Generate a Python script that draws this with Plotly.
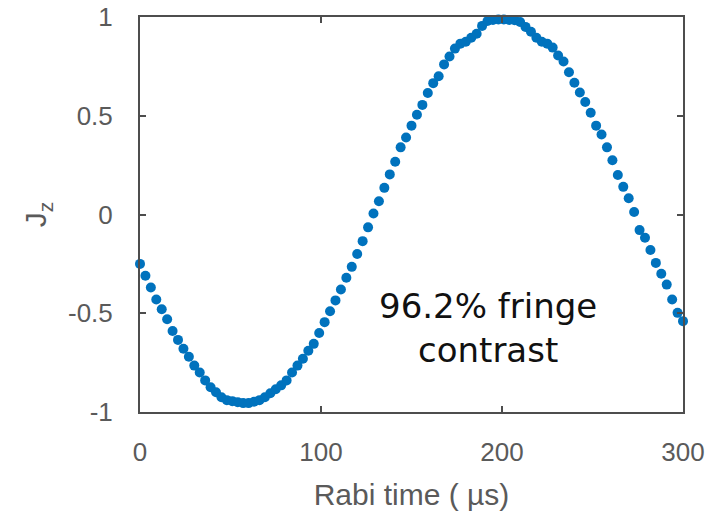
import plotly.graph_objects as go

# Rabi oscillation measurement: pulse time (µs) and measured J_z
rabi_time_us = list(range(0, 301, 3))
jz_values = [
    -0.25, -0.31, -0.37, -0.43, -0.48, -0.53, -0.59, -0.635, -0.68, -0.72,
    -0.765, -0.80, -0.84, -0.875, -0.90, -0.925, -0.94, -0.945, -0.95, -0.955,
    -0.955, -0.948, -0.94, -0.925, -0.905, -0.885, -0.865, -0.84, -0.80, -0.765,
    -0.73, -0.69, -0.655, -0.60, -0.545, -0.49, -0.435, -0.38, -0.32, -0.265,
    -0.20, -0.135, -0.065, 0.005, 0.067, 0.135, 0.203, 0.267, 0.34, 0.39,
    0.45, 0.505, 0.555, 0.615, 0.665, 0.70, 0.76, 0.80, 0.84, 0.865,
    0.875, 0.895, 0.915, 0.955, 0.98, 0.985, 0.987, 0.987, 0.985, 0.984,
    0.975, 0.95, 0.925, 0.895, 0.875, 0.865, 0.845, 0.805, 0.775, 0.72,
    0.667, 0.618, 0.57, 0.515, 0.45, 0.405, 0.34, 0.275, 0.20, 0.14,
    0.082, 0.013, -0.079, -0.118, -0.18, -0.245, -0.30, -0.355, -0.43, -0.498,
    -0.54,
]

x_ticks = [0, 100, 200, 300]
y_ticks = [-1, -0.5, 0, 0.5, 1]
y_tick_text = ["-1", "-0.5", "0", "0.5", "1"]

axis_color = "#4d4d4d"
label_color = "#5a5a5a"
label_font = "Liberation Sans"

fig = go.Figure()
fig.add_trace(go.Scatter(
    x=rabi_time_us,
    y=jz_values,
    mode="markers",
    marker=dict(size=10, color="#0072BD", line=dict(width=0)),
    cliponaxis=False,
    showlegend=False,
))

fig.add_annotation(
    x=192, y=-0.575, xref="x", yref="y",
    text="96.2% fringe<br>contrast",
    showarrow=False,
    font=dict(family="DejaVu Sans", size=34, color="#111111"),
    align="center", xanchor="center", yanchor="middle",
)

axis_common = dict(
    showline=True, linecolor=axis_color, linewidth=2,
    mirror="allticks", ticks="inside", ticklen=6, tickwidth=2,
    tickcolor=axis_color, showgrid=False, zeroline=False, automargin=False,
    tickfont=dict(family=label_font, size=26, color=label_color),
)

fig.update_xaxes(
    range=[0, 300], tickvals=x_ticks,
    title=dict(text="Rabi time ( µs)", font=dict(family=label_font, size=30, color=label_color), standoff=18),
    ticklabelstandoff=16,
    **axis_common,
)
fig.update_yaxes(
    range=[-1, 1], tickvals=y_ticks, ticktext=y_tick_text,
    title=dict(text="J<sub>z</sub>", font=dict(family=label_font, size=30, color=label_color), standoff=12),
    ticklabelstandoff=20,
    **axis_common,
)

fig.update_layout(
    width=713, height=526,
    margin=dict(l=140, r=30, t=17, b=114),
    paper_bgcolor="white", plot_bgcolor="white",
)

fig.write_html("out.html")
